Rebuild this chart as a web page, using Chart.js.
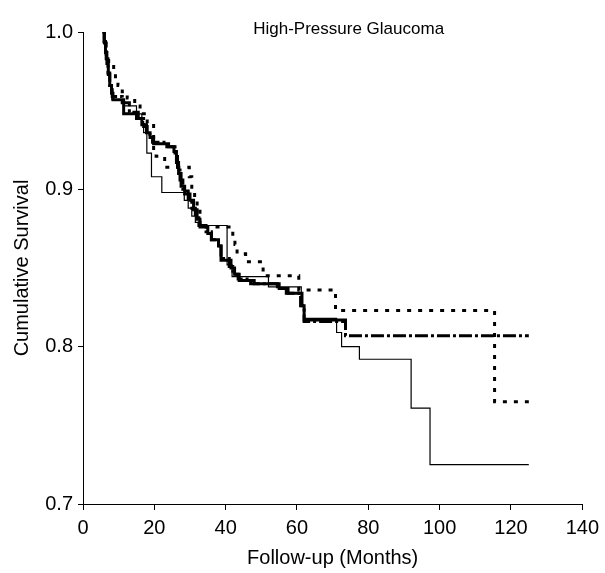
<!DOCTYPE html>
<html>
<head>
<meta charset="utf-8">
<script src="https://cdn.jsdelivr.net/npm/chart.js@4/dist/chart.umd.min.js"></script>
<style>
  html, body { margin: 0; padding: 0; background: #fff; }
  #wrap { width: 605px; height: 573px; }
</style>
</head>
<body>
<div id="wrap"><canvas id="kmChart"></canvas></div>
<script>
// Kaplan-Meier steps: month of each drop and survival after it
const thinMonths = [5.5, 5.9, 6.3, 6.7, 7.1, 7.5, 8.1, 11.4, 15.0, 16.5, 17.0, 17.9, 19.2, 22.1, 28.4, 29.5, 30.5, 31.5, 32.6, 40.4, 41.8, 52.0, 61.2, 62.0, 71.1, 72.5, 77.5, 92.0, 97.3, 125.0];
const thinSurv = [1.0, 0.994, 0.987, 0.98, 0.973, 0.966, 0.957, 0.953, 0.948, 0.943, 0.936, 0.923, 0.908, 0.898, 0.893, 0.888, 0.883, 0.879, 0.877, 0.852, 0.8445, 0.838, 0.826, 0.818, 0.809, 0.80, 0.792, 0.761, 0.725, 0.725];

const thickMonths = [5.5, 5.9, 6.3, 6.7, 7.1, 7.5, 8.0, 8.4, 11.4, 15.0, 16.5, 17.8, 18.8, 19.8, 24.0, 25.5, 26.2, 26.8, 27.5, 28.5, 30.0, 31.0, 32.0, 32.8, 35.0, 36.0, 38.0, 38.7, 41.5, 42.5, 43.8, 48.0, 55.0, 57.5, 61.4, 62.0, 73.6];
const thickSurv = [1.0, 0.994, 0.987, 0.98, 0.973, 0.966, 0.961, 0.957, 0.948, 0.945, 0.941, 0.936, 0.933, 0.929, 0.927, 0.924, 0.917, 0.91, 0.902, 0.897, 0.893, 0.887, 0.881, 0.876, 0.872, 0.868, 0.864, 0.855, 0.85, 0.846, 0.842, 0.84, 0.837, 0.834, 0.826, 0.817, 0.816];

const dotMonths = [5.5, 6.0, 6.5, 7.2, 8.6, 9.1, 9.8, 11.0, 12.4, 14.5, 16.0, 18.0, 19.8, 20.5, 22.9, 29.8, 30.5, 31.3, 32.0, 32.8, 42.0, 42.6, 43.2, 45.6, 50.5, 60.5, 70.8, 115.4, 125.0];
const dotSurv = [1.0, 0.993, 0.986, 0.98, 0.976, 0.969, 0.966, 0.962, 0.958, 0.953, 0.948, 0.942, 0.925, 0.921, 0.914, 0.908, 0.90, 0.895, 0.886, 0.876, 0.870, 0.865, 0.859, 0.854, 0.845, 0.836, 0.823, 0.765, 0.765];

const dashMonths = [5.5, 6.0, 6.5, 7.0, 7.5, 8.2, 11.0, 13.0, 15.5, 17.0, 18.0, 19.5, 23.5, 25.8, 26.5, 27.2, 28.0, 29.5, 30.5, 31.5, 32.5, 34.5, 36.0, 38.0, 38.7, 41.0, 42.0, 43.5, 47.0, 54.5, 57.0, 61.0, 62.0, 73.6, 125.0];
const dashSurv = [1.0, 0.992, 0.983, 0.974, 0.966, 0.959, 0.955, 0.949, 0.945, 0.94, 0.935, 0.93, 0.927, 0.922, 0.914, 0.906, 0.899, 0.894, 0.888, 0.882, 0.877, 0.873, 0.868, 0.864, 0.856, 0.851, 0.846, 0.843, 0.84, 0.837, 0.834, 0.826, 0.816, 0.807, 0.807];

const xTicks = [0, 20, 40, 60, 80, 100, 120, 140];
const yTicks = [0.7, 0.8, 0.9, 1.0];
const chartTitle = 'High-Pressure Glaucoma';

const toPoints = (xs, ys) => xs.map((x, i) => ({ x: x, y: ys[i] }));

const fontFamily = '"Liberation Sans", Arial, Helvetica, sans-serif';
Chart.defaults.color = '#000';
Chart.defaults.font.family = fontFamily;

// title sits level with the top of the plot, slightly right of centre
const titleOverlay = {
    id: 'titleOverlay',
    afterDraw(chart) {
        const ctx = chart.ctx;
        const area = chart.chartArea;
        ctx.save();
        ctx.font = '17px ' + fontFamily;
        ctx.fillStyle = '#000';
        ctx.textAlign = 'center';
        ctx.textBaseline = 'middle';
        ctx.fillText(chartTitle, (area.left + area.right) / 2 + 16, area.top - 3);
        ctx.restore();
    }
};

new Chart(document.getElementById('kmChart'), {
    type: 'line',
    data: {
        datasets: [
            {
                label: 'thin',
                data: toPoints(thinMonths, thinSurv),
                stepped: true,
                borderColor: '#000',
                borderWidth: 1.2,
                pointRadius: 0,
                fill: false
            },
            {
                label: 'thick',
                data: toPoints(thickMonths, thickSurv),
                stepped: true,
                borderColor: '#000',
                borderWidth: 3,
                pointRadius: 0,
                fill: false
            },
            {
                label: 'dash-dot',
                data: toPoints(dashMonths, dashSurv),
                stepped: true,
                borderColor: '#000',
                borderWidth: 3,
                borderDash: [13, 3, 3, 3],
                pointRadius: 0,
                fill: false
            },
            {
                label: 'dotted',
                data: toPoints(dotMonths, dotSurv),
                stepped: true,
                borderColor: '#000',
                borderWidth: 3,
                borderDash: [4, 7],
                pointRadius: 0,
                fill: false
            }
        ]
    },
    options: {
        responsive: true,
        maintainAspectRatio: false,
        animation: false,
        layout: { padding: { left: 0, right: 20, top: 32, bottom: 0 } },
        plugins: {
            legend: { display: false },
            tooltip: { enabled: false },
            title: { display: false }
        },
        scales: {
            x: {
                type: 'linear',
                min: 0,
                max: 140,
                afterBuildTicks(axis) { axis.ticks = xTicks.map(v => ({ value: v })); },
                afterFit(axis) { axis.height = 69; },
                ticks: { font: { size: 20 }, padding: 6, maxRotation: 0 },
                grid: { drawOnChartArea: false, drawTicks: true, tickLength: 6, color: '#000' },
                border: { display: true, color: '#000', width: 1 },
                title: {
                    display: true,
                    text: 'Follow-up (Months)',
                    font: { size: 20 },
                    padding: { top: 0, bottom: 3 }
                }
            },
            y: {
                type: 'linear',
                min: 0.7,
                max: 1.0,
                afterBuildTicks(axis) { axis.ticks = yTicks.map(v => ({ value: v })); },
                afterFit(axis) { axis.width = 83; },
                ticks: {
                    font: { size: 20 },
                    padding: 5,
                    callback: v => v.toFixed(1)
                },
                grid: { drawOnChartArea: false, drawTicks: true, tickLength: 5, color: '#000' },
                border: { display: true, color: '#000', width: 1 },
                title: {
                    display: true,
                    text: 'Cumulative Survival',
                    font: { size: 20 },
                    padding: { top: 10, bottom: 0 }
                }
            }
        }
    },
    plugins: [titleOverlay]
});
</script>
</body>
</html>
